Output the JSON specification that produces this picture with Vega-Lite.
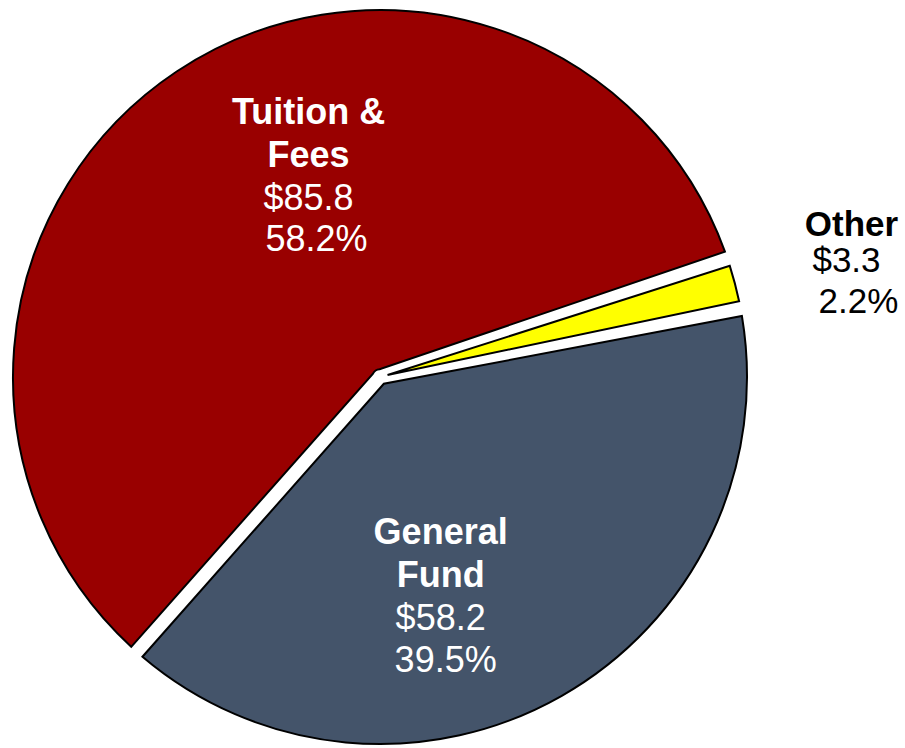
{
  "$schema": "https://vega.github.io/schema/vega-lite/v6.json",
  "width": 760,
  "height": 742,
  "autosize": {"type": "none"},
  "padding": {"left": 0, "top": 6, "right": 145, "bottom": 0},
  "background": "white",
  "config": {"view": {"stroke": null}, "text": {"font": "Liberation Sans", "align": "center", "baseline": "alphabetic", "fontSize": 36, "lineBreak": "\n", "lineHeight": 43}},
  "data": {
    "values": [
      {"category": "Tuition & Fees", "value": 85.8, "name": "Tuition &\nFees", "dollars": "$85.8", "share": "58.2%"},
      {"category": "General Fund", "value": 58.2, "name": "General\nFund", "dollars": "$58.2", "share": "39.5%"},
      {"category": "Other", "value": 3.3, "name": "Other", "dollars": "$3.3", "share": "2.2%"}
    ]
  },
  "encoding": {
    "theta": {"field": "value", "type": "quantitative", "stack": true, "scale": {"range": [1.2427, 7.5259]}},
    "order": {"field": "value", "type": "quantitative", "sort": "ascending"},
    "detail": {"field": "category"}
  },
  "layer": [
    {
      "mark": {"type": "arc", "outerRadius": 367, "innerRadius": 7.8, "padAngle": 0.0409, "stroke": "black", "strokeWidth": 2, "strokeJoin": "miter"},
      "encoding": {
        "color": {"field": "category", "type": "nominal", "scale": {"domain": ["Tuition & Fees", "General Fund", "Other"], "range": ["#990000", "#44546A", "#FFFF00"]}, "legend": null}
      }
    },
    {
      "mark": {"type": "text", "radius": 230, "dx": 56, "dy": -62, "fontWeight": "bold", "fill": "white"},
      "encoding": {"text": {"condition": {"test": "datum.category === 'Tuition & Fees'", "field": "name"}, "value": ""}}
    },
    {
      "mark": {"type": "text", "radius": 230, "dx": 56, "dy": 24, "fill": "white"},
      "encoding": {"text": {"condition": {"test": "datum.category === 'Tuition & Fees'", "field": "dollars"}, "value": ""}}
    },
    {
      "mark": {"type": "text", "radius": 230, "dx": 64, "dy": 65, "fill": "white"},
      "encoding": {"text": {"condition": {"test": "datum.category === 'Tuition & Fees'", "field": "share"}, "value": ""}}
    },
    {
      "mark": {"type": "text", "radius": 230, "dx": -53, "dy": -33, "fontWeight": "bold", "fill": "white"},
      "encoding": {"text": {"condition": {"test": "datum.category === 'General Fund'", "field": "name"}, "value": ""}}
    },
    {
      "mark": {"type": "text", "radius": 230, "dx": -53, "dy": 53, "fill": "white"},
      "encoding": {"text": {"condition": {"test": "datum.category === 'General Fund'", "field": "dollars"}, "value": ""}}
    },
    {
      "mark": {"type": "text", "radius": 230, "dx": -48, "dy": 95, "fill": "white"},
      "encoding": {"text": {"condition": {"test": "datum.category === 'General Fund'", "field": "share"}, "value": ""}}
    },
    {
      "mark": {"type": "text", "radius": 470, "dx": 17, "dy": -21, "fontSize": 35, "fontWeight": "bold", "fill": "black"},
      "encoding": {"text": {"condition": {"test": "datum.category === 'Other'", "field": "name"}, "value": ""}}
    },
    {
      "mark": {"type": "text", "radius": 470, "dx": 12, "dy": 15, "fontSize": 35, "fill": "black"},
      "encoding": {"text": {"condition": {"test": "datum.category === 'Other'", "field": "dollars"}, "value": ""}}
    },
    {
      "mark": {"type": "text", "radius": 470, "dx": 24, "dy": 56, "fontSize": 35, "fill": "black"},
      "encoding": {"text": {"condition": {"test": "datum.category === 'Other'", "field": "share"}, "value": ""}}
    }
  ]
}
